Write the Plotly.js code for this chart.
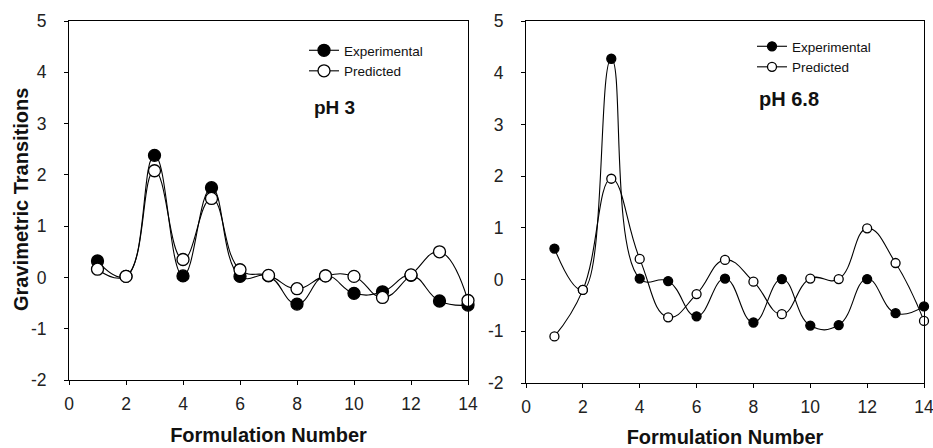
<!DOCTYPE html>
<html>
<head>
<meta charset="utf-8">
<script src="https://cdn.plot.ly/plotly-3.0.1.min.js"></script>
<style>html,body{margin:0;padding:0;background:#fff;}#chart{width:933px;height:448px;}</style>
</head>
<body>
<div id="chart"></div>
<script>
// Formulation numbers
const formulation = [1,2,3,4,5,6,7,8,9,10,11,12,13,14];
// pH 3
const ph3Experimental = [0.32,0.02,2.38,0.03,1.75,0.02,0.03,-0.52,0.03,-0.31,-0.28,0.04,-0.46,-0.54];
const ph3Predicted    = [0.16,0.02,2.08,0.35,1.54,0.15,0.04,-0.22,0.03,0.02,-0.39,0.05,0.50,-0.45];
// pH 6.8
const ph68Experimental = [0.60,-0.20,4.27,0.02,-0.03,-0.71,0.02,-0.83,0.01,-0.89,-0.88,0.01,-0.65,-0.52];
const ph68Predicted    = [-1.10,-0.20,1.95,0.40,-0.73,-0.28,0.38,-0.04,-0.67,0.02,0.01,0.99,0.32,-0.80];
const xTicks = [0,2,4,6,8,10,12,14];
const yTicks = [-2,-1,0,1,2,3,4,5];
const panelLabels = ['pH 3','pH 6.8'];
const seriesNames = ['Experimental','Predicted'];
const xTitle = 'Formulation Number';
const yTitle = 'Gravimetric Transitions';

const FAM = '"Liberation Sans",Arial,sans-serif';
const tickFont = {family:FAM, size:17.5, color:'#222'};
const titleFont = {family:FAM, size:20, color:'#111', weight:'bold'};
const legFont = {family:FAM, size:13.5, color:'#111'};

function tr(x,y,name,filled,xa,ya,size,leg,smooth){
  return {x:x,y:y,name:name,xaxis:xa,yaxis:ya,type:'scatter',mode:'lines+markers',
    line:{color:'#000',width:1.1,shape:'spline',smoothing:smooth},
    marker:{symbol:'circle',size:size,color:filled?'#000':'#fff',line:{color:'#000',width:1.3}},
    cliponaxis:false,legend:leg};
}
const data = [
  tr(formulation,ph3Experimental,seriesNames[0],true,'x','y',12,'legend',1.3),
  tr(formulation,ph3Predicted,seriesNames[1],false,'x','y',12,'legend',1.3),
  tr(formulation,ph68Experimental,seriesNames[0],true,'x2','y2',9,'legend2',1.3),
  tr(formulation,ph68Predicted,seriesNames[1],false,'x2','y2',9,'legend2',1.3)
];
function xax(dom, anchor){
  return {domain:dom,anchor:anchor,range:[0,14],tickvals:xTicks,ticktext:xTicks.map(String),
    ticks:'outside',ticklen:4,tickcolor:'#000',showline:true,mirror:true,linecolor:'#000',linewidth:1,
    showgrid:false,zeroline:false,tickfont:tickFont,ticklabelstandoff:4,ticklabeloverflow:'allow',
    title:{text:xTitle,font:titleFont,standoff:14}};
}
function yax(dom, anchor){
  return {domain:dom,anchor:anchor,range:[-2,5],tickvals:yTicks,ticktext:yTicks.map(String),
    ticks:'outside',ticklen:4,tickcolor:'#000',showline:true,mirror:true,linecolor:'#000',linewidth:1,
    showgrid:false,zeroline:false,tickfont:tickFont,ticklabelstandoff:14,ticklabeloverflow:'allow'};
}
const W=933,H=448;
const layout = {
  width:W,height:H,margin:{l:0,r:0,t:0,b:0},paper_bgcolor:'#fff',plot_bgcolor:'#fff',
  showlegend:true,
  xaxis:xax([69/W,468/W],'y'),
  yaxis:yax([1-380/H,1-21/H],'x'),
  xaxis2:xax([526/W,924/W],'y2'),
  yaxis2:yax([1-383/H,1-21/H],'x2'),
  legend:{x:304/W,y:1-35/H,xanchor:'left',yanchor:'top',bgcolor:'rgba(0,0,0,0)',font:legFont,tracegroupgap:0,itemwidth:30},
  legend2:{x:752/W,y:1-31/H,xanchor:'left',yanchor:'top',bgcolor:'rgba(0,0,0,0)',font:legFont,tracegroupgap:0,itemwidth:30},
  annotations:[
    {text:'<b>'+yTitle+'</b>',xref:'paper',yref:'paper',x:21/W,y:1-200/H,xanchor:'center',yanchor:'middle',textangle:-90,showarrow:false,font:{family:FAM,size:20,color:'#111'}},
    {text:'<b>'+panelLabels[0]+'</b>',xref:'x',yref:'y',x:9.3,y:3.32,showarrow:false,font:{family:FAM,size:19,color:'#111'}},
    {text:'<b>'+panelLabels[1]+'</b>',xref:'x2',yref:'y2',x:9.25,y:3.5,showarrow:false,font:{family:FAM,size:20,color:'#111'}}
  ]
};
Plotly.newPlot('chart',data,layout,{displayModeBar:false,staticPlot:true});
</script>
</body>
</html>
